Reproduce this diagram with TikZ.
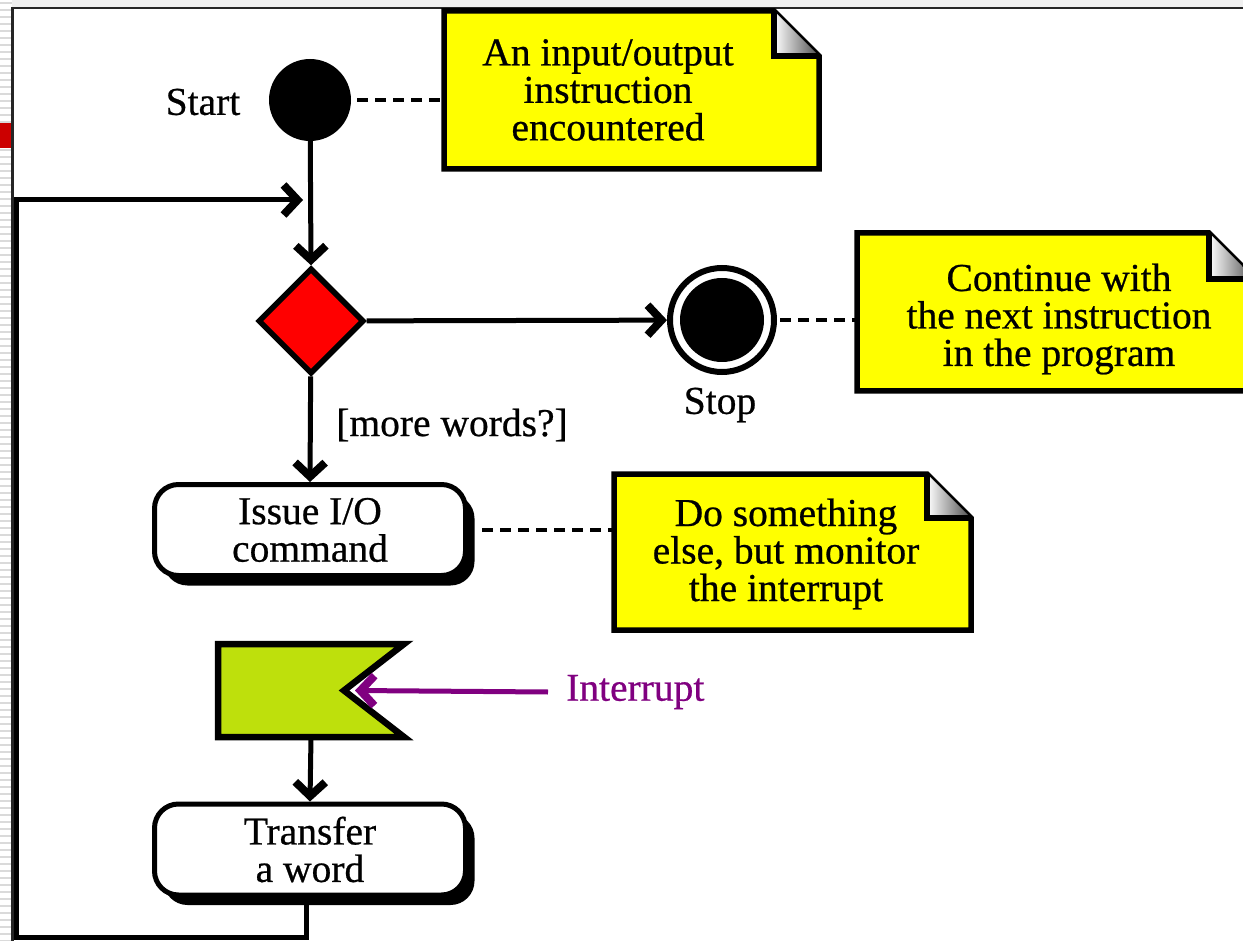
\documentclass[tikz,border=0pt]{standalone}
\usepackage{fontspec}
\setmainfont{Liberation Serif}[UprightFeatures={FakeBold=0.6}]
\usetikzlibrary{arrows.meta,shapes.geometric,shadows,calc}

\definecolor{noteyellow}{RGB}{255,255,0}
\definecolor{flaggreen}{RGB}{190,224,12}
\definecolor{decisionred}{RGB}{255,0,0}
\definecolor{irqpurple}{RGB}{128,0,128}
\definecolor{stripgray}{RGB}{218,218,218}
\definecolor{alertred}{RGB}{204,0,0}

% dog-eared note outline around an (invisible) node; #2 = fold size
\newcommand\dogear[2]{%
  \filldraw[notestyle] (#1.south west) -- (#1.north west)
    -- ([xshift=-#2]#1.north east) -- ([yshift=-#2]#1.north east)
    -- (#1.south east) -- cycle;
  \shade[left color=white, right color=black!70]
    ([xshift=-#2]#1.north east) -- ([xshift=-#2,yshift=-#2]#1.north east)
    -- ([yshift=-#2]#1.north east) -- cycle;
  \draw[line width=5.5pt, line join=miter]
    ([xshift=-#2]#1.north east) -- ([xshift=-#2,yshift=-#2]#1.north east)
    -- ([yshift=-#2]#1.north east);
}

\begin{document}
\begin{tikzpicture}[x=1pt,y=-1pt,
  txt/.style={font=\fontsize{39.5}{37.5}\selectfont, align=center, inner sep=0pt},
  notestyle/.style={draw, line width=5.5pt, fill=noteyellow, line join=miter},
  notebox/.style={inner sep=0pt, outer sep=0pt},
  tip/.style={-{Straight Barb[length=14pt,width=30pt,line width=8pt]}},
  flow/.style={line width=5pt, line join=miter, tip},
  dashline/.style={line width=4.5pt, dash pattern=on 11pt off 7pt},
  procbox/.style={txt, rectangle, rounded corners=24pt, draw, line width=5pt,
    fill=white, minimum width=311pt, minimum height=91pt,
    drop shadow={shadow xshift=9pt, shadow yshift=-10pt, fill=black, opacity=1}},
]
\useasboundingbox (0,0) rectangle (1243,941);

% slide frame and left strip
\fill[black!6] (12,0) rectangle (1243,7);
\foreach \y in {3,10,...,941} \draw[stripgray, line width=1.5pt] (0,\y) -- (12,\y);
\fill[alertred] (0,123) rectangle (12,148);
\draw[line width=2.5pt, black!85] (1243,8) -- (12.5,8) -- (12.5,941);

% start
\node[circle, fill=black, minimum size=82pt, inner sep=0pt] (start) at (310,100) {};
\node[txt] (startlbl) at (203,102) {Start};

% note 1
\node[notebox, minimum width=375pt, minimum height=158pt] (note1) at (631.5,90) {};
\dogear{note1}{45pt}
\node[txt] (note1txt) at (608,90) {An input/output\\instruction\\encountered};

% decision
\node[diamond, aspect=1, draw, line width=5.5pt, fill=decisionred,
      minimum width=106pt, minimum height=106pt, inner sep=0pt] (dec) at (311,321) {};

% stop
\node[circle, draw, line width=6pt, fill=white, minimum size=104pt, inner sep=0pt]
      (stop) at (722,320) {};
\node[circle, fill=black, minimum size=84pt, inner sep=0pt] (stopdot) at (stop.center) {};
\node[txt] (stoplbl) at (720,405) {Stop};

% note 2
\node[notebox, minimum width=398pt, minimum height=158pt] (note2) at (1056,312) {};
\dogear{note2}{46pt}
\node[txt] (note2txt) at (1059,319) {Continue with\\the next instruction\\in the program};

% guard
\node[txt] (guard) at (452,425) {[more words?]};

% issue command
\node[procbox] (issue) at (310,530) {Issue I/O\\command};

% note 3
\node[notebox, minimum width=357pt, minimum height=156pt] (note3) at (792.5,552) {};
\dogear{note3}{44pt}
\node[txt] (note3txt) at (786,554) {Do something\\else, but monitor\\the interrupt};

% accept-event flag
\node[notebox, minimum width=186pt, minimum height=93pt] (flag) at (311,690.5) {};
\draw[line width=6.5pt, line join=miter, fill=flaggreen]
  (flag.north west) -- (flag.north east) -- ([xshift=-60pt]flag.east)
  -- (flag.south east) -- (flag.south west) -- cycle;
\coordinate (notch) at ([xshift=-60pt]flag.east);
\node[txt, text=irqpurple, anchor=west] (irq) at (566,692) {Interrupt};

% transfer
\node[procbox] (xfer) at (310,849.5) {Transfer\\a word};

% connectors
\coordinate (loopin) at (303,200);
\draw[flow] (start) -- (dec.north);
\draw[flow] (dec) -- (stop);
\draw[flow] (dec) -- (issue.north);
\draw[flow] (flag.south) -- (xfer.north);
\draw[flow] ([xshift=-4pt]xfer.south) |- (16,937) |- (loopin);
\draw[line width=5pt, irqpurple, tip]
  ([xshift=-18pt]irq.west) -- ([xshift=11pt]notch);

\draw[dashline, shorten <=6pt] (start.east) -- (start.east -| note1.west);
\draw[dashline, shorten <=3pt] (stop.east) -- (stop.east -| note2.west);
\draw[dashline, shorten <=14pt] (issue.east) -- (issue.east -| note3.west);
\end{tikzpicture}
\end{document}
